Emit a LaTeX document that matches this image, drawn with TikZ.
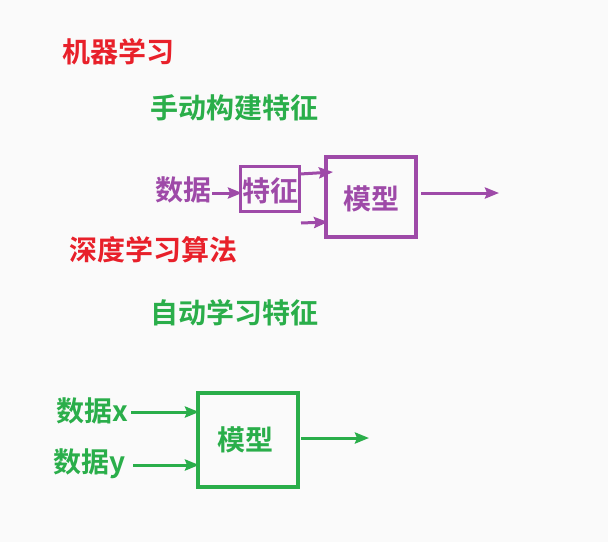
\documentclass[tikz,border=0pt]{standalone}
\usepackage{fontspec}
\setmainfont{Noto Sans CJK SC}[BoldFont=* Bold]
\usetikzlibrary{arrows.meta}
\definecolor{myred}{HTML}{E8202A}
\definecolor{mygreen}{HTML}{2AAE4A}
\definecolor{mypurple}{HTML}{9E4AA8}
\definecolor{bg}{HTML}{FAFAFA}
\tikzset{
  lbl/.style={font=\fontsize{28}{32}\selectfont\bfseries, inner sep=0pt},
  boxp/.style={draw=mypurple, line width=3.5pt, inner sep=0pt},
  boxg/.style={draw=mygreen, line width=3.5pt, inner sep=0pt},
  arp/.style={draw=mypurple, fill=mypurple, line width=3pt, -{Stealth[length=14pt,width=11pt,inset=2pt]}},
  arg/.style={draw=mygreen, fill=mygreen, line width=3pt, -{Stealth[length=14pt,width=11pt,inset=2pt]}},
}
\begin{document}
\begin{tikzpicture}[x=1pt,y=-1pt]
\fill[bg] (0,0) rectangle (608,542);
\useasboundingbox (0,0) rectangle (608,542);
% titles
\node[lbl, text=myred] (ml) at (118,52) {机器学习};
\node[lbl, text=mygreen] (manual) at (234,108) {手动构建特征};
\node[lbl, text=myred] (dl) at (153,250) {深度学习算法};
\node[lbl, text=mygreen] (auto) at (234,313) {自动学习特征};
% top diagram
\node[lbl, text=mypurple] (data1) at (183,190) {数据};
\node[boxp, minimum width=59pt, minimum height=45pt] (feat) at (270,189) {};
\node[lbl, text=mypurple] (feattext) at (270,191) {特征};
\node[boxp, minimum width=90pt, minimum height=80pt] (model1) at (371,197) {};
\node[lbl, text=mypurple] (model1t) at (371,199) {模型};
\coordinate (a1s) at (212,193);
\coordinate (a1e) at (242,193);
\coordinate (a2s) at (300,174);
\coordinate (a2e) at (333,172);
\coordinate (a3s) at (301,223);
\coordinate (a3e) at (328,222);
\coordinate (a4s) at (421,193);
\coordinate (a4e) at (499,193);
\draw[arp] (a1s) -- (a1e);
\draw[arp] (a2s) -- (a2e);
\draw[arp] (a3s) -- (a3e);
\draw[arp] (a4s) -- (a4e);
% bottom diagram
\node[lbl, text=mygreen] (datax) at (92,411) {数据x};
\node[lbl, text=mygreen] (datay) at (90,464) {数据y};
\node[boxg, minimum width=100pt, minimum height=94pt] (model2) at (248,440) {};
\node[lbl, text=mygreen] (model2t) at (245,440) {模型};
\coordinate (b1s) at (131,412);
\coordinate (b1e) at (199,412);
\coordinate (b2s) at (133,465);
\coordinate (b2e) at (199,465);
\coordinate (b3s) at (301,438);
\coordinate (b3e) at (369,438);
\draw[arg] (b1s) -- (b1e);
\draw[arg] (b2s) -- (b2e);
\draw[arg] (b3s) -- (b3e);
\end{tikzpicture}
\end{document}
